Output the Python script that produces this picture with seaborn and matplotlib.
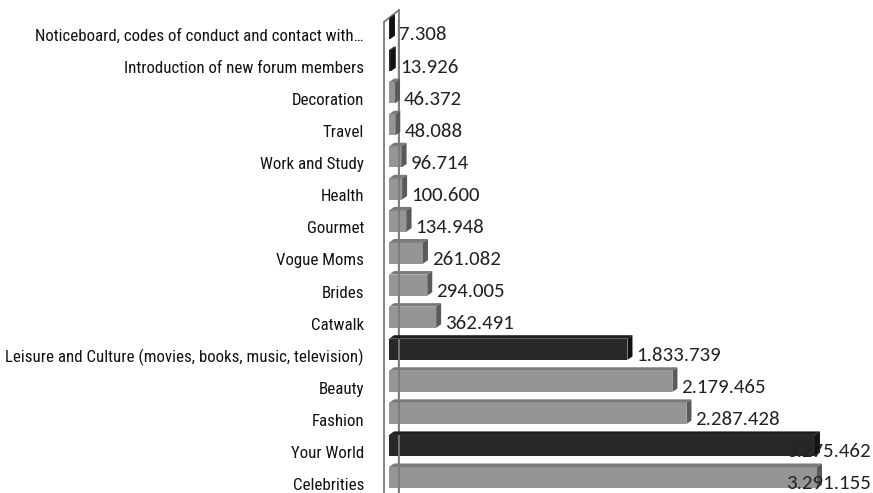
import matplotlib
matplotlib.use("Agg")
import matplotlib.pyplot as plt
import seaborn as sns
import pandas as pd
import numpy as np
from matplotlib.patches import Polygon

categories = [
    "Noticeboard, codes of conduct and contact with…",
    "Introduction of new forum members",
    "Decoration",
    "Travel",
    "Work and Study",
    "Health",
    "Gourmet",
    "Vogue Moms",
    "Brides",
    "Catwalk",
    "Leisure and Culture (movies, books, music, television)",
    "Beauty",
    "Fashion",
    "Your World",
    "Celebrities",
]
values = [7308, 13926, 46372, 48088, 96714, 100600, 134948, 261082, 294005,
          362491, 1833739, 2179465, 2287428, 3275462, 3291155]
value_labels = ["7.308", "13.926", "46.372", "48.088", "96.714", "100.600",
                "134.948", "261.082", "294.005", "362.491", "1.833.739",
                "2.179.465", "2.287.428", "3.275.462", "3.291.155"]
group = ["dark", "dark", "grey", "grey", "grey", "grey", "grey", "grey", "grey",
         "grey", "dark", "grey", "grey", "dark", "grey"]

df = pd.DataFrame({"category": categories, "value": values, "group": group})

sns.set_theme(style="white")
W, H = 873, 493
fig = plt.figure(figsize=(W / 100, H / 100), dpi=100)

ax_left_px, ax_right_px = 375, 873
zero_px = 389
units_per_px = 3291155 / 428.0
ax = fig.add_axes([ax_left_px / W, 0, (ax_right_px - ax_left_px) / W, 1])

face = {"grey": "#959595", "dark": "#282828"}
side = {"grey": "#5a5a5a", "dark": "#111111"}
top = {"grey": "#7a7a7a", "dark": "#1c1c1c"}

bar_h = 0.66
yoff = -0.2
ypos = np.arange(len(categories)) + yoff

sns.barplot(data=df, x="value", y="category", hue="group",
            palette=face, orient="h", width=bar_h, dodge=False,
            legend=False, ax=ax, linewidth=0, saturation=1)
for p in ax.patches:
    p.set_y(p.get_y() + yoff)

xlim = (-(zero_px - ax_left_px) * units_per_px, (ax_right_px - zero_px) * units_per_px)
row0 = 35.0
pitch = 32.07
ylim = ((H - row0) / pitch, -row0 / pitch)
ax.set_xlim(*xlim)
ax.set_ylim(*ylim)

dx = 5 * units_per_px
dy = 3.5 / pitch
wall_l = -5 * units_per_px
wall_r = 10 * units_per_px
wc = "#7a7a7a"
ax.plot([wall_l, wall_l], [ylim[0], -13 / pitch], color=wc, lw=1.3, clip_on=False)
ax.plot([wall_r, wall_r], [ylim[0], -25 / pitch], color=wc, lw=1.3, clip_on=False)
ax.plot([wall_l, wall_r], [-13 / pitch, -25 / pitch], color=wc, lw=1.3, clip_on=False)
ax.plot([9 * units_per_px, 9 * units_per_px], [ylim[0], -0.5], color="#888888", lw=1.0, zorder=0.5)

for i, (v, g) in enumerate(zip(values, group)):
    y0 = ypos[i] - bar_h / 2
    y1 = ypos[i] + bar_h / 2
    ax.add_patch(Polygon([(0, y0), (dx, y0 - dy), (v + dx, y0 - dy), (v, y0)],
                         closed=True, facecolor=top[g], edgecolor="none", zorder=3))
    ax.add_patch(Polygon([(v, y0), (v + dx, y0 - dy), (v + dx, y1 - dy), (v, y1)],
                         closed=True, facecolor=side[g], edgecolor="none", zorder=3))

label_font = ["Roboto Condensed", "Archivo Narrow", "DejaVu Sans"]
val_font = ["Carlito", "Lato", "DejaVu Sans"]
right_limit = xlim[1] - 2 * units_per_px
for i, (v, lab) in enumerate(zip(values, value_labels)):
    x = v + dx + 4 * units_per_px
    t = ax.text(x, i, lab, ha="left", va="center", fontsize=15,
                family=val_font, color="#222222", zorder=5)
    fig.canvas.draw()
    bb = t.get_window_extent()
    if bb.x1 > ax_right_px - 2:
        t.set_ha("right")
        t.set_x(right_limit)

ax.set_yticks(range(len(categories)))
ax.set_yticklabels(categories, family=label_font, fontsize=12.2, color="#111111")
ax.tick_params(axis="y", length=0, pad=8)
ax.set_ylabel("")
ax.set_xlabel("")
ax.set_xticks([])
for s in ax.spines.values():
    s.set_visible(False)

fig.savefig("out.png", dpi=100)
